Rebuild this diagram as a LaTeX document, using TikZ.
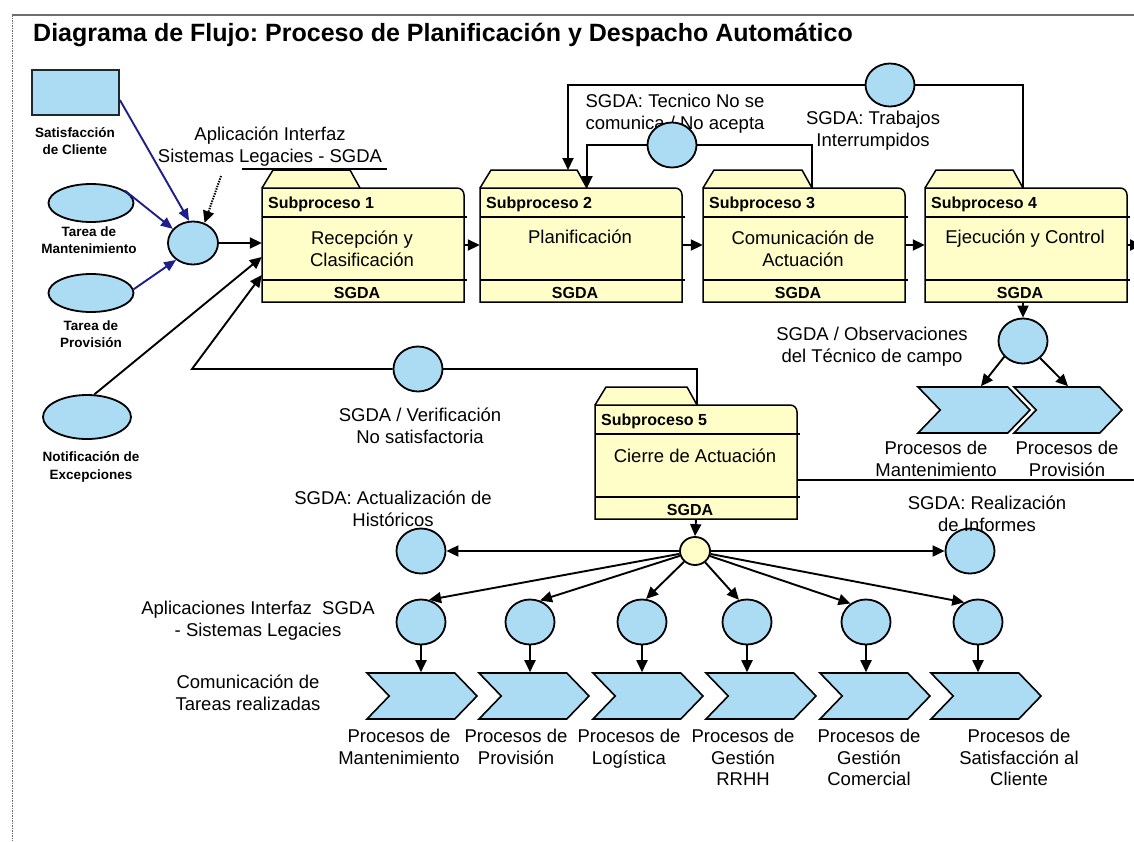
\documentclass[tikz,border=0pt]{standalone}
\usepackage{fontspec}
\setmainfont{Liberation Sans}
\usetikzlibrary{arrows.meta,shapes.geometric,shapes.symbols}
\frenchspacing

\definecolor{boxyellow}{RGB}{255,253,200}
\definecolor{procblue}{RGB}{172,220,244}
\definecolor{navyline}{RGB}{30,30,140}
\definecolor{framegray}{RGB}{110,110,110}

\newcommand\txtreg{\fontsize{18.5}{21.5}\selectfont}
\newcommand\txtsmall{\fontsize{13.5}{17.5}\selectfont\bfseries}
\newcommand\txthead{\fontsize{16}{19}\selectfont\bfseries}

\tikzset{
  conn/.style={draw=black, line width=1.9pt},
  arr/.style={conn, -{Triangle[length=12pt,width=11pt]}},
  bluearr/.style={draw=navyline, line width=1.9pt, -{Triangle[length=12pt,width=10pt]}, navyline},
  dotarr/.style={draw=black, line width=2pt, dash pattern=on 1.4pt off 1.2pt, -{Triangle[length=12pt,width=11pt]}},
  bubble/.style={ellipse, draw=black, line width=1.8pt, fill=procblue, minimum width=49pt, minimum height=45pt, inner sep=0pt},
  oval/.style={ellipse, draw=black, line width=1.8pt, fill=procblue, minimum width=85pt, minimum height=38pt, inner sep=0pt},
  chev/.style={signal, signal from=west, signal to=east, signal pointer angle=92, draw=black, line width=1.6pt, fill=procblue, minimum width=110pt, minimum height=46pt, inner sep=0pt},
  boxshape/.style={rectangle, minimum width=202pt, minimum height=114pt, inner sep=0pt},
  boxline/.style={draw=black, line width=1.5pt, fill=boxyellow},
  sepline/.style={draw=black, line width=1.5pt},
  bodytxt/.style={align=center, font=\txtreg, inner sep=0pt},
  toptxt/.style={bodytxt, anchor=north},
  headtxt/.style={font=\txthead, inner sep=0pt},
  smalllbl/.style={align=center, font=\txtsmall, inner sep=0pt},
}

% folder-like subprocess box: name, left, top, tab foot offset, number, body y offset, body text
\newcommand\subproceso[7]{%
  \draw[boxline] (#2,#3) -- ({#2+11},{#3-18}) -- ({#2+#4-10},{#3-18}) -- ({#2+#4},#3);
  \draw[boxline] (#2,{#3+114}) -- (#2,#3) -- ({#2+195},#3)
     .. controls ({#2+199},#3) and ({#2+202},{#3+3}) .. ({#2+202},{#3+7})
     -- ({#2+202},{#3+114}) -- cycle;
  \draw[sepline] (#2,{#3+29}) -- ({#2+205},{#3+29});
  \draw[sepline] (#2,{#3+92}) -- ({#2+205},{#3+92});
  \node[boxshape] (#1) at ({#2+101},{#3+57}) {};
  \coordinate (#1tab) at ({#2+#4},#3);
  \node[headtxt, anchor=west] (#1head) at ({#2+6},{#3+16}) {Subproceso #5};
  \node[bodytxt, anchor=north] (#1body) at ({#2+100},{#3+#6}) {#7};
  \node[headtxt] (#1sys) at ({#2+95},{#3+105}) {SGDA};
}

\begin{document}
\begin{tikzpicture}[x=1pt,y=-1pt]
\useasboundingbox (0,0) rectangle (1134,841);
\fill[white] (0,0) rectangle (1134,841);
\clip (0,0) rectangle (1134,841);

% page frame
\coordinate (fTL) at (12,15);
\coordinate (fTR) at (1134,15);
\coordinate (fBL) at (12,841);
\draw[framegray, line width=1.2pt] (fTL) -- (fTR);
\draw[framegray, line width=1pt, dash pattern=on 1.5pt off 1pt] (fTL) -- (fBL);

% title
\node[anchor=west, font=\fontsize{25}{28}\selectfont\bfseries, inner sep=0pt] (title) at (33,35)
  {Diagrama de Flujo: Proceso de Planificación y Despacho Automático};

% inputs on the left
\node[rectangle, draw=black!85, line width=1.8pt, fill=procblue, minimum width=87pt, minimum height=45pt, inner sep=0pt] (sat) at (75.5,92.5) {};
\node[smalllbl] (satl) at (75,141) {Satisfacción\\de Cliente};
\node[oval] (e1) at (91,203) {};
\node[smalllbl] (e1l) at (89,240) {Tarea de\\Mantenimiento};
\node[oval] (e2) at (91,293) {};
\node[smalllbl] (e2l) at (91,334) {Tarea de\\Provisión};
\node[oval, minimum width=88pt, minimum height=44pt] (e3) at (87,417) {};
\node[smalllbl] (e3l) at (91,467) {Notificación de\\Excepciones};

\node[bubble, minimum width=50pt, minimum height=43pt] (cin) at (193,243) {};
\node[toptxt] (apl) at (270,127) {Aplicación Interfaz\\Sistemas Legacies - SGDA};
\coordinate (ul1) at (242,169);
\coordinate (ul2) at (387,169);
\coordinate (dotsrc) at (221,176);

% subprocesses
\subproceso{s1}{262}{188}{98}{1}{43}{Recepción y\\Clasificación}
\subproceso{s2}{480}{188}{107}{2}{42}{Planificación}
\subproceso{s3}{703}{188}{109}{3}{43}{Comunicación de\\Actuación}
\subproceso{s4}{925}{188}{98}{4}{42}{Ejecución y Control}
\subproceso{s5}{595}{405}{102}{5}{44}{Cierre de Actuación}
\draw[sepline] (ul1) -- (ul2);

% inputs into the first subprocess
\draw[bluearr] ([yshift=-7.5pt]sat.east) -- (cin.100);
\draw[bluearr] (e1.20) -- (cin.145);
\draw[bluearr] (e2.5) -- (cin.225);
\draw[dotarr] (dotsrc) -- (cin.60);
\draw[arr] (cin) -- (cin -| s1.west);
\draw[arr] (e3.72) -- ([yshift=-12pt]s1.west);

% chain of subprocesses
\draw[arr] (s1.east) -- (s2.west);
\draw[arr] (s2.east) -- (s3.west);
\draw[arr] (s3.east) -- (s4.west);
\coordinate (offR) at (1142,245);
\draw[arr] (s4.east) -- (offR);

% loops back to planning
\node[toptxt] (tecl) at (675,94) {SGDA: Tecnico No se\\comunica / No acepta};
\node[bubble] (cb) at (672,145) {};
\node[toptxt] (trl) at (873,111) {SGDA: Trabajos\\Interrumpidos};
\node[bubble, minimum height=43pt] (ct) at (890,85) {};
\coordinate (k2) at (568,170);
\draw[conn] (s3tab) |- (cb.east);
\draw[arr] (cb.west) -| (s2tab);
\draw[conn] (s4tab) |- (ct.east);
\draw[arr] (ct.west) -| (k2);

% field observations
\node[bubble] (obs) at (1023,341) {};
\node[toptxt] (obsl) at (872,327) {SGDA / Observaciones\\del Técnico de campo};
\draw[arr] (obs.north |- s4.south) -- (obs.north);
\node[chev, minimum width=112pt] (p1) at (974,410) {};
\node[chev, minimum width=108pt] (p2) at (1068,410) {};
\draw[arr] (obs.220) -- ([xshift=7pt]p1.north);
\draw[arr] (obs.315) -- (p2.north);
\node[toptxt] (p1l) at (936,441) {Procesos de\\Mantenimiento};
\node[toptxt] (p2l) at (1067,441) {Procesos de\\Provisión};

% unsatisfactory verification loop
\node[bubble] (ver) at (418,369) {};
\node[toptxt] (verl) at (420,408) {SGDA / Verificación\\No satisfactoria};
\coordinate (fb) at (192,369);
\draw[conn] (s5tab) |- (ver.east);
\draw[arr] (ver.west) -- (fb) -- ([yshift=-30pt]s1.west);

% line leaving the closing step
\coordinate (rEdge) at (1136,480);
\draw[conn] ([yshift=-18pt]s5.east) -- (rEdge);

% distribution hub
\node[bubble, fill=boxyellow, minimum width=30pt, minimum height=28pt] (hub) at (695,551) {};
\draw[arr] (s5.south) -- (hub.north);
\node[bubble] (hist) at (421,551) {};
\node[bubble] (inf) at (970,551) {};
\draw[arr] (hub) -- (hist);
\draw[arr] (hub) -- (inf);
\node[toptxt] (histl) at (393,491) {SGDA: Actualización de\\Históricos};
\node[toptxt] (infl) at (987,496) {SGDA: Realización\\de Informes};

% interface circles and downstream processes
\foreach \n/\x/\q/\a in {1/421/422/70, 2/530/534/65, 3/642/648/80, 4/747/761/110, 5/866/875/130, 6/978/986/125}{
  \node[bubble] (b\n) at (\x,622) {};
  \node[chev] (q\n) at (\q,696) {};
  \draw[arr] (hub) -- (b\n.\a);
  \draw[arr] (b\n) -- (b\n |- q\n.north);
}
\node[toptxt] (aisl) at (258,601) {Aplicaciones Interfaz~~SGDA\\- Sistemas Legacies};
\node[toptxt] (ctrl) at (248,675) {Comunicación de\\Tareas realizadas};

\node[toptxt] (q1l) at (399,729) {Procesos de\\Mantenimiento};
\node[toptxt] (q2l) at (516,729) {Procesos de\\Provisión};
\node[toptxt] (q3l) at (629,729) {Procesos de\\Logística};
\node[toptxt] (q4l) at (743,729) {Procesos de\\Gestión\\RRHH};
\node[toptxt] (q5l) at (869,729) {Procesos de\\Gestión\\Comercial};
\node[toptxt] (q6l) at (1019,729) {Procesos de\\Satisfacción al\\Cliente};
\end{tikzpicture}
\end{document}
